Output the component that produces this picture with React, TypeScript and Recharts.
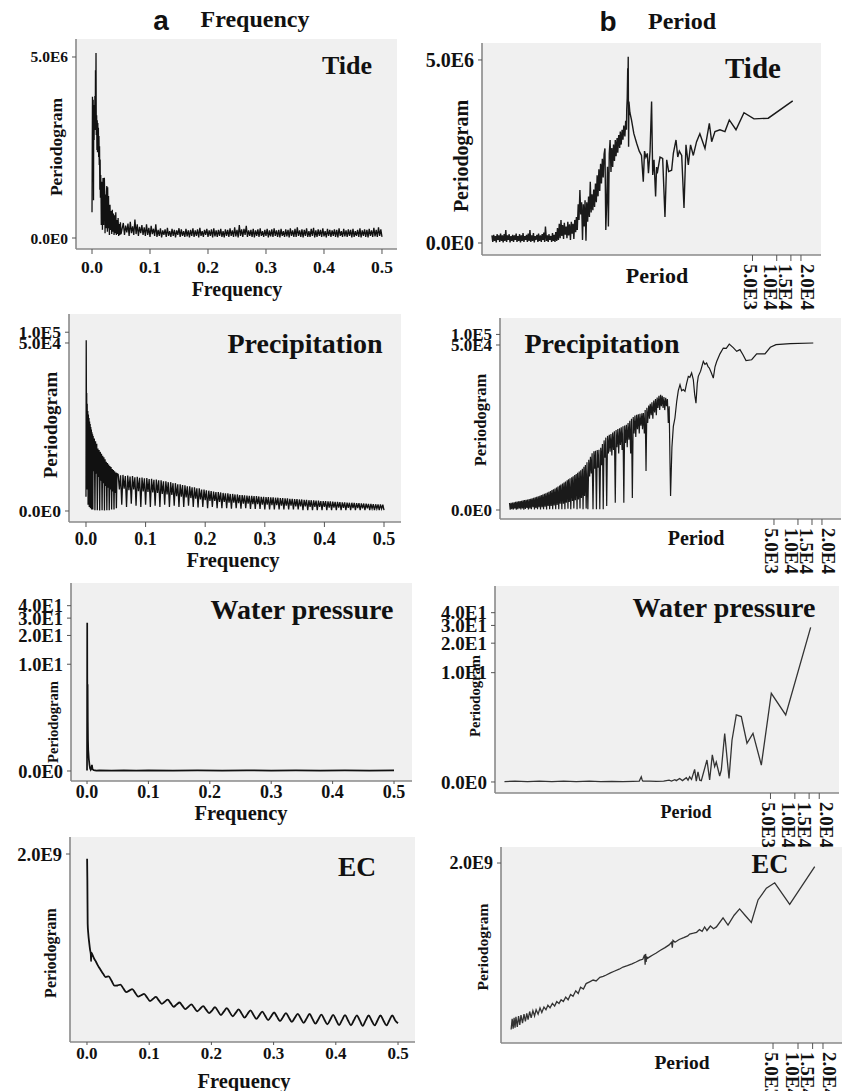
import { LineChart, Line, XAxis, YAxis, CartesianGrid } from 'recharts';

type Pt = [number, number];

const SERIF = '"Liberation Serif", "Times New Roman", Times, serif';
const SANS = '"Liberation Sans", Arial, sans-serif';

// tick values and labels
const freqTicks = [0, 0.1, 0.2, 0.3, 0.4, 0.5];
const periodTicks = [5000, 10000, 15000, 20000];
const periodTickLabels = ['5.0E3', '1.0E4', '1.5E4', '2.0E4'];
const periodTickShift = [-2, -6, -5, 7]; // labels are nudged apart as in the original
const tideTicks = [0, 5e6];
const tideTickLabels = ['0.0E0', '5.0E6'];
const precipTicks = [0, 5e4, 1e5];
const precipTickLabels = ['0.0E0', '5.0E4', '1.0E5'];
const waterTicks = [0, 10, 20, 30, 40];
const waterTickLabels = ['0.0E0', '1.0E1', '2.0E1', '3.0E1', '4.0E1'];
const ecTicks = [2e9];
const ecTickLabels = ['2.0E9'];

// frequencies of the noisy floor in column a (f >= 0.054)
const floorFreqs = [
  0.054, 0.056, 0.058, 0.060, 0.062, 0.064, 0.066, 0.068, 0.070, 0.072,
  0.074, 0.076, 0.078, 0.080, 0.082, 0.084, 0.086, 0.088, 0.090, 0.092,
  0.094, 0.096, 0.098, 0.100, 0.102, 0.104, 0.106, 0.108, 0.110, 0.112,
  0.114, 0.116, 0.118, 0.120, 0.122, 0.124, 0.126, 0.128, 0.130, 0.132,
  0.134, 0.136, 0.138, 0.140, 0.142, 0.144, 0.146, 0.148, 0.150, 0.152,
  0.154, 0.156, 0.158, 0.160, 0.162, 0.164, 0.166, 0.168, 0.170, 0.172,
  0.174, 0.176, 0.178, 0.180, 0.182, 0.184, 0.186, 0.188, 0.190, 0.192,
  0.194, 0.196, 0.198, 0.200, 0.202, 0.204, 0.206, 0.208, 0.210, 0.212,
  0.214, 0.216, 0.218, 0.220, 0.222, 0.224, 0.226, 0.228, 0.230, 0.232,
  0.234, 0.236, 0.238, 0.240, 0.242, 0.244, 0.246, 0.248, 0.250, 0.252,
  0.254, 0.256, 0.258, 0.260, 0.262, 0.264, 0.266, 0.268, 0.270, 0.272,
  0.274, 0.276, 0.278, 0.280, 0.282, 0.284, 0.286, 0.288, 0.290, 0.292,
  0.294, 0.296, 0.298, 0.300, 0.302, 0.304, 0.306, 0.308, 0.310, 0.312,
  0.314, 0.316, 0.318, 0.320, 0.322, 0.324, 0.326, 0.328, 0.330, 0.332,
  0.334, 0.336, 0.338, 0.340, 0.342, 0.344, 0.346, 0.348, 0.350, 0.352,
  0.354, 0.356, 0.358, 0.360, 0.362, 0.364, 0.366, 0.368, 0.370, 0.372,
  0.374, 0.376, 0.378, 0.380, 0.382, 0.384, 0.386, 0.388, 0.390, 0.392,
  0.394, 0.396, 0.398, 0.400, 0.402, 0.404, 0.406, 0.408, 0.410, 0.412,
  0.414, 0.416, 0.418, 0.420, 0.422, 0.424, 0.426, 0.428, 0.430, 0.432,
  0.434, 0.436, 0.438, 0.440, 0.442, 0.444, 0.446, 0.448, 0.450, 0.452,
  0.454, 0.456, 0.458, 0.460, 0.462, 0.464, 0.466, 0.468, 0.470, 0.472,
  0.474, 0.476, 0.478, 0.480, 0.482, 0.484, 0.486, 0.488, 0.490, 0.492,
  0.494, 0.496, 0.498, 0.500,
];

// ---- column a: periodogram vs frequency ----
const tideFreqHead: Pt[] = [
  [0.000, 8], [0.0008, 1.7e5], [0.0014, 1.8e3], [0.002, 1.3e5], [0.0026, 24], [0.003, 5.5e4],
  [0.0036, 4.2e3], [0.004, 8.3e4], [0.0046, 1.0e4], [0.005, 1.8e5], [0.0056, 1.5e4], [0.006, 1.6e6],
  [0.0064, 1.0e4], [0.0069, 7.0e6], [0.0074, 6.5e3], [0.008, 3.5e4], [0.0085, 1.8e3], [0.009, 2.3e4],
  [0.0095, 1.5e3], [0.010, 1.8e4], [0.0105, 2.0e3], [0.011, 1.2e4], [0.0115, 1.0e3], [0.012, 6.0e3],
  [0.0125, 500], [0.013, 2.5e3], [0.0135, 60], [0.014, 800], [0.0145, 30], [0.015, 215],
  [0.0155, 60], [0.016, 2], [0.0165, 120], [0.017, 90], [0.0175, 10], [0.018, 1],
  [0.0185, 60], [0.019, 166], [0.0195, 15], [0.020, 2], [0.0205, 70], [0.0213, 170],
  [0.022, 30], [0.0225, 0.5], [0.023, 40], [0.0235, 24], [0.024, 3], [0.0245, 1.3],
  [0.025, 50], [0.0255, 83], [0.026, 12], [0.0265, 0.7], [0.027, 75], [0.0275, 8],
  [0.028, 1.3], [0.0285, 35], [0.029, 4], [0.030, 0.3], [0.031, 16], [0.032, 1],
  [0.033, 9], [0.034, 0.4], [0.035, 10], [0.036, 0.7], [0.037, 7], [0.038, 0.3],
  [0.039, 6], [0.040, 0.5], [0.041, 8], [0.042, 0.3], [0.043, 3.6], [0.044, 0.4],
  [0.045, 4.5], [0.046, 0.2], [0.047, 2.3], [0.048, 0.3], [0.049, 2.8], [0.050, 0.4],
];
const tideFreqFloor = [
  2.6, 0.3, 1.9, 0.6, 2.4, 0.2, 3.0, 0.5, 1.7, 0.3,
  3.8, 0.4, 2.2, 0.2, 1.6, 0.5, 2.0, 0.3, 1.5, 0.2,
  2.2, 0.3, 1.4, 0.1, 1.8, 0.4, 1.2, 0.2, 2.2, 0.1,
  1.0, 0.2, 1.3, 0.05, 0.9, 0.3, 1.1, 0.1, 1.4, 0.2,
  0.8, 0.1, 1.2, 0.2, 1.0, 0.05, 0.9, 0.3, 1.3, 0.1,
  1.1, 0.2, 0.8, 0.1, 1.2, 0.15, 0.9, 0.05, 1.0, 0.2,
  1.3, 0.1, 0.9, 0.2, 1.1, 0.05, 1.4, 0.2, 0.8, 0.1,
  1.0, 0.3, 1.2, 0.1, 0.9, 0.2, 1.1, 0.05, 1.3, 0.15,
  0.9, 0.1, 1.0, 0.2, 1.2, 0.1, 0.8, 0.05, 1.1, 0.2,
  1.0, 0.1, 1.3, 0.2, 0.9, 0.1, 1.5, 0.15, 1.0, 0.05,
  2.0, 0.2, 1.1, 0.1, 1.2, 0.3, 1.8, 0.1, 0.9, 0.2,
  1.0, 0.1, 1.2, 0.05, 0.9, 0.2, 1.1, 0.1, 1.3, 0.2,
  0.8, 0.1, 1.0, 0.2, 1.2, 0.05, 0.9, 0.15, 1.1, 0.1,
  1.3, 0.2, 0.9, 0.1, 1.0, 0.05, 1.2, 0.2, 0.8, 0.1,
  1.1, 0.15, 1.0, 0.05, 1.3, 0.2, 0.9, 0.1, 1.2, 0.1,
  1.5, 0.2, 0.9, 0.1, 1.1, 0.05, 1.0, 0.2, 1.3, 0.1,
  0.8, 0.1, 1.2, 0.2, 1.4, 0.05, 0.9, 0.1, 1.1, 0.2,
  1.0, 0.1, 1.3, 0.15, 0.8, 0.05, 1.2, 0.2, 1.0, 0.1,
  0.9, 0.2, 1.1, 0.1, 1.0, 0.05, 1.3, 0.2, 0.8, 0.1,
  1.2, 0.15, 0.9, 0.1, 1.1, 0.2, 1.0, 0.05, 1.2, 0.1,
  0.8, 0.2, 1.0, 0.1, 1.3, 0.05, 0.9, 0.2, 1.1, 0.1,
  1.0, 0.05, 1.2, 0.2, 0.9, 0.1, 1.4, 0.15, 1.0, 0.1,
  1.5, 0.2, 1.1, 0.1,
];

const precipFreqHead: Pt[] = [
  [0.000, 1.5], [0.0004, 6e4], [0.0008, 400], [0.0012, 2e3], [0.0016, 3], [0.002, 1e3],
  [0.0025, 60], [0.003, 630], [0.0035, 0.5], [0.004, 500], [0.0045, 40], [0.005, 400],
  [0.0055, 0.3], [0.006, 316], [0.0065, 30], [0.007, 270], [0.0075, 0.2], [0.008, 223],
  [0.0085, 20], [0.009, 190], [0.0095, 0.1], [0.010, 158], [0.0105, 15], [0.011, 140],
  [0.0115, 0.1], [0.012, 125], [0.013, 12], [0.014, 105], [0.015, 0.05], [0.016, 88],
  [0.017, 10], [0.018, 75], [0.019, 0.05], [0.020, 55], [0.021, 8], [0.022, 50],
  [0.023, 0.03], [0.024, 44], [0.025, 6], [0.026, 39], [0.027, 0.05], [0.028, 34],
  [0.029, 5], [0.030, 31], [0.031, 0.03], [0.032, 27], [0.033, 4], [0.034, 23],
  [0.035, 0.05], [0.036, 21], [0.037, 3.5], [0.038, 19], [0.039, 0.05], [0.040, 17],
  [0.041, 3], [0.042, 16], [0.043, 0.1], [0.044, 14], [0.045, 2.5], [0.046, 13],
  [0.047, 0.1], [0.048, 12], [0.049, 2.2], [0.050, 11], [0.051, 0.2], [0.052, 10],
];
const precipFreqFloor = [
  9.5, 3, 9, 0.5, 9.2, 3.2, 8.5, 0.3, 8.8, 2.8,
  8.2, 0.6, 8.5, 3, 7.8, 0.4, 8, 2.6, 7.5, 0.3,
  7.6, 2.5, 7.2, 0.5, 7.3, 2.4, 6.8, 0.3, 7, 2.3,
  6.5, 0.4, 6.6, 2.2, 6.2, 0.3, 6.2, 2, 5.8, 0.5,
  5.8, 1.9, 5.4, 0.3, 5.4, 1.8, 5, 0.4, 5, 1.6,
  4.6, 0.3, 4.6, 1.5, 4.3, 0.3, 4.2, 1.4, 3.9, 0.4,
  3.9, 1.3, 3.6, 0.3, 3.6, 1.2, 3.3, 0.25, 3.3, 1.1,
  3, 0.3, 3, 1, 2.8, 0.2, 2.7, 0.9, 2.6, 0.3,
  2.5, 0.9, 2.4, 0.2, 2.4, 0.8, 2.3, 0.2, 2.2, 0.8,
  2.1, 0.2, 2.1, 0.7, 2, 0.15, 2, 0.7, 1.9, 0.2,
  1.9, 0.65, 1.8, 0.15, 1.8, 0.6, 1.75, 0.2, 1.7, 0.6,
  1.65, 0.15, 1.65, 0.55, 1.6, 0.15, 1.6, 0.55, 1.55, 0.15,
  1.5, 0.5, 1.5, 0.1, 1.45, 0.5, 1.45, 0.1, 1.4, 0.45,
  1.4, 0.1, 1.35, 0.45, 1.35, 0.1, 1.3, 0.4, 1.3, 0.1,
  1.25, 0.4, 1.25, 0.1, 1.2, 0.4, 1.2, 0.1, 1.15, 0.35,
  1.15, 0.1, 1.1, 0.35, 1.1, 0.05, 1.05, 0.35, 1.05, 0.05,
  1.0, 0.3, 1.0, 0.05, 0.98, 0.3, 0.95, 0.05, 0.95, 0.3,
  0.9, 0.05, 0.9, 0.3, 0.88, 0.05, 0.85, 0.25, 0.85, 0.05,
  0.82, 0.25, 0.8, 0.05, 0.8, 0.25, 0.78, 0.05, 0.75, 0.22,
  0.75, 0.05, 0.72, 0.22, 0.7, 0.05, 0.7, 0.2, 0.68, 0.05,
  0.66, 0.2, 0.65, 0.05, 0.63, 0.18, 0.62, 0.05, 0.6, 0.18,
  0.58, 0.05, 0.57, 0.16, 0.55, 0.05, 0.54, 0.15, 0.52, 0.05,
  0.52, 0.15, 0.5, 0.05,
];

const waterFreq: Pt[] = [
  [0, 0.01], [0.0003, 27], [0.0006, 1.5], [0.001, 6], [0.0013, 2], [0.0016, 1],
  [0.002, 0.6], [0.003, 0.3], [0.004, 0.15], [0.005, 0.06], [0.006, 0.03], [0.007, 0.06],
  [0.008, 0.15], [0.009, 0.04], [0.011, 0.02], [0.015, 0.01], [0.02, 0.015], [0.04, 0.01],
  [0.06, 0.015], [0.08, 0.01], [0.1, 0.015], [0.14, 0.01], [0.18, 0.015], [0.22, 0.01],
  [0.26, 0.015], [0.3, 0.01], [0.34, 0.015], [0.38, 0.01], [0.42, 0.015], [0.46, 0.01],
  [0.5, 0.012],
];

const ecFreq: Pt[] = [
  [0.0002, 1.95e9], [0.0006, 1.72e9], [0.0011, 1.26e9], [0.002, 1.16e9], [0.0037, 1.05e9],
  [0.005, 0.98e9], [0.0062, 0.93e9], [0.0066, 0.86e9], [0.007, 0.95e9], [0.009, 0.925e9],
  [0.012, 0.88e9], [0.0145, 0.854e9], [0.017, 0.82e9], [0.02, 0.787e9], [0.023, 0.755e9],
  [0.026, 0.725e9],
  [0.0300, 6.91e8], [0.0348, 6.98e8], [0.0395, 6.51e8], [0.0443, 5.99e8], [0.0490, 6.01e8],
  [0.0538, 6.11e8], [0.0585, 5.69e8], [0.0633, 5.30e8], [0.0680, 5.47e8], [0.0728, 5.63e8],
  [0.0775, 5.23e8], [0.0823, 4.83e8], [0.0870, 4.97e8], [0.0918, 5.12e8], [0.0965, 4.75e8],
  [0.1013, 4.36e8], [0.1060, 4.58e8], [0.1108, 4.80e8], [0.1155, 4.43e8], [0.1203, 4.06e8],
  [0.1250, 4.28e8], [0.1298, 4.50e8], [0.1345, 4.13e8], [0.1393, 3.75e8], [0.1440, 3.98e8],
  [0.1488, 4.20e8], [0.1535, 3.84e8], [0.1583, 3.50e8], [0.1630, 3.75e8], [0.1678, 4.01e8],
  [0.1725, 3.64e8], [0.1773, 3.27e8], [0.1820, 3.54e8], [0.1868, 3.81e8], [0.1915, 3.44e8],
  [0.1963, 3.07e8], [0.2010, 3.34e8], [0.2058, 3.72e8], [0.2105, 3.29e8], [0.2153, 2.87e8],
  [0.2200, 3.24e8], [0.2248, 3.61e8], [0.2295, 3.17e8], [0.2343, 2.74e8], [0.2390, 3.10e8],
  [0.2438, 3.47e8], [0.2485, 3.04e8], [0.2533, 2.59e8], [0.2580, 2.98e8], [0.2628, 3.37e8],
  [0.2675, 2.91e8], [0.2723, 2.46e8], [0.2770, 2.84e8], [0.2818, 3.23e8], [0.2865, 2.78e8],
  [0.2913, 2.33e8], [0.2960, 2.73e8], [0.3008, 3.14e8], [0.3055, 2.68e8], [0.3103, 2.23e8],
  [0.3150, 2.64e8], [0.3198, 3.07e8], [0.3245, 2.61e8], [0.3293, 2.14e8], [0.3340, 2.57e8],
  [0.3388, 3.00e8], [0.3435, 2.53e8], [0.3483, 2.04e8], [0.3530, 2.49e8], [0.3578, 2.98e8],
  [0.3625, 2.46e8], [0.3673, 1.95e8], [0.3720, 2.43e8], [0.3768, 2.91e8], [0.3815, 2.40e8],
  [0.3863, 1.89e8], [0.3910, 2.37e8], [0.3958, 2.88e8], [0.4005, 2.34e8], [0.4053, 1.80e8],
  [0.4100, 2.33e8], [0.4148, 2.85e8], [0.4195, 2.32e8], [0.4243, 1.78e8], [0.4290, 2.31e8],
  [0.4338, 2.84e8], [0.4385, 2.30e8], [0.4433, 1.72e8], [0.4480, 2.30e8], [0.4528, 2.82e8],
  [0.4575, 2.29e8], [0.4623, 1.76e8], [0.4670, 2.29e8], [0.4718, 2.82e8], [0.4765, 2.29e8],
  [0.4813, 1.76e8], [0.4860, 2.29e8], [0.4908, 2.82e8], [0.4955, 2.29e8], [0.5000, 2.0e8],
];

// ---- column b: periodogram vs period ----
const tidePeriod: Pt[] = [
  [2.90, 0.9], [2.97, 0.1], [3.05, 1.0], [3.12, 0.2], [3.20, 0.8], [3.28, 0.05], [3.36, 1.1], [3.45, 0.3],
  [3.53, 0.9], [3.62, 0.1], [3.71, 1.2], [3.81, 0.2], [3.90, 0.9], [4.00, 0.05], [4.10, 1.1], [4.20, 0.2],
  [4.31, 2.0], [4.41, 0.1], [4.52, 0.9], [4.64, 0.3], [4.75, 1.1], [4.87, 0.05], [5.00, 0.8], [5.12, 0.2],
  [5.25, 1.0], [5.38, 0.1], [5.52, 0.9], [5.65, 0.3], [5.80, 1.2], [5.94, 0.1], [6.09, 0.8], [6.24, 0.2],
  [6.40, 1.1], [6.56, 0.05], [6.72, 0.9], [6.89, 0.2], [7.06, 1.3], [7.24, 0.1], [7.42, 0.8], [7.60, 0.3],
  [7.80, 1.0], [7.99, 0.1], [8.19, 1.2], [8.40, 0.2], [8.60, 2.0], [8.82, 0.1], [9.04, 0.9], [9.27, 0.2],
  [9.50, 1.3], [9.74, 0.05], [9.98, 0.8], [10.2, 0.3], [10.5, 1.0], [10.8, 0.1], [11.0, 1.2], [11.3, 0.2],
  [11.6, 0.9], [11.9, 0.1], [12.2, 1.1], [12.5, 0.3], [12.8, 1.4], [13.1, 0.1], [13.4, 3.0], [13.8, 0.2],
  [14.1, 0.9], [14.5, 0.1], [14.8, 1.1], [15.2, 0.3], [15.6, 0.8], [16.0, 0.1], [16.4, 1.3], [16.8, 0.2],
  [17.2, 1.0], [17.6, 0.1], [18.0, 1.5], [18.5, 0.2],
  [18.9, 2.5], [19.4, 0.3], [19.9, 4], [20.4, 0.5], [20.9, 5.9], [21.4, 0.8], [21.9, 3.5], [22.5, 0.4],
  [23.0, 4.5], [23.6, 1.0], [24.2, 3], [24.8, 0.5], [25.4, 5], [26.0, 0.9], [26.7, 3.8], [27.4, 0.3],
  [28.1, 5], [28.8, 1.2], [29.5, 4], [30.2, 0.4], [31.0, 6], [31.8, 1.5], [32.5, 8],
  [33.3, 2], [34.2, 25], [35.0, 6], [35.9, 86], [36.8, 10], [37.7, 30], [38.7, 0.3], [39.6, 25],
  [40.6, 3], [41.6, 36], [42.7, 0.2], [43.7, 30], [44.8, 5], [46, 49], [47.1, 8], [48.3, 175],
  [49.5, 12], [50.7, 60], [52, 15], [53.3, 90], [54.6, 20], [56, 150], [57.4, 30], [58.8, 300],
  [60.3, 50], [61.8, 500], [63.3, 80], [64.9, 800], [66.5, 150], [68.2, 1.2e3], [69.9, 250], [71.7, 1.8e3],
  [73.5, 2.9e3], [75.3, 2], [77.2, 30], [79.1, 620], [81.1, 3], [83.1, 1.8e3], [85.2, 5.9e3], [87.3, 400],
  [89.5, 3e3], [91.7, 600], [94, 4e3], [96.4, 1e3], [98.8, 5.9e3], [101, 1.5e3], [104, 7e3], [106, 2e3],
  [109, 9e3], [112, 3e3], [114, 1.2e4], [117, 4e3], [120, 1.4e4], [123, 6e3], [126, 2e4], [130, 8e3],
  [133, 3e4], [136, 1.4e4], [137, 7.4e4], [139, 2e5], [141, 2.5e6], [142, 5e5], [143, 6.6e6],
  [144.5, 3.3e3], [146, 1.5e5], [150, 6e4], [157, 3.2e4], [168, 1e4], [182, 4.5e3],
  [196, 2.3e3], [209, 1.6e3], [220, 175], [228, 2.3e3], [237, 1.4e3], [247, 1.9e3], [255, 355],
  [267, 2.3e3], [279, 1.5e5], [288, 310], [299, 1.1e3], [313, 49], [322, 600], [328, 355],
  [355, 1.4e3], [383, 1.25e3], [409, 8], [430, 1.1e3], [455, 410], [495, 460], [520, 1.9e3],
  [561, 5.9e3], [590, 1.4e3], [617, 2.3e3], [660, 1.6e3], [705, 18], [746, 3.9e3], [798, 720],
  [850, 3.9e3], [920, 1.6e3], [1010, 5.1e3], [1110, 1e4], [1285, 2.9e3], [1455, 2.4e4], [1556, 5.1e3],
  [1710, 1.2e4], [1972, 1.4e4], [2275, 1.2e4], [2576, 3.2e4], [3119, 1.4e4], [3920, 5.9e4],
  [5220, 3.5e4], [7850, 3.7e4], [15800, 1.6e5],
];

const precipPeriod: Pt[] = [
  [2.40, 0.58], [2.45, 0.02], [2.51, 0.6], [2.56, 0.05], [2.62, 0.62], [2.68, 0.03], [2.74, 0.66], [2.80, 0.1],
  [2.86, 0.7], [2.92, 0.02], [2.99, 0.74], [3.05, 0.05], [3.12, 0.78], [3.19, 0.1], [3.26, 0.8], [3.33, 0.03],
  [3.40, 0.84], [3.48, 0.1], [3.56, 0.88], [3.63, 0.02], [3.71, 0.92], [3.80, 0.08], [3.88, 0.96], [3.97, 0.15],
  [4.05, 1.0], [4.14, 0.03], [4.24, 1.05], [4.33, 0.1], [4.43, 1.1], [4.52, 0.05], [4.62, 1.15], [4.73, 0.2],
  [4.83, 1.22], [4.94, 0.04], [5.05, 1.3], [5.16, 0.15], [5.27, 1.38], [5.39, 0.05], [5.51, 1.47], [5.63, 0.2],
  [5.76, 1.56], [5.88, 0.03], [6.01, 1.66], [6.15, 0.2], [6.28, 1.78], [6.42, 0.05], [6.57, 1.9], [6.71, 0.25],
  [6.86, 2.0], [7.01, 0.04], [7.17, 2.15], [7.33, 0.3], [7.49, 2.3], [7.66, 0.05], [7.83, 2.5], [8.0, 0.3],
  [8.18, 2.7], [8.36, 0.05], [8.54, 2.9], [8.73, 0.35], [8.93, 3.1], [9.12, 0.06], [9.33, 3.4], [9.53, 0.4],
  [9.74, 3.7], [9.96, 0.05], [10.2, 4.0], [10.4, 0.5], [10.6, 4.3], [10.9, 0.06], [11.1, 4.7], [11.4, 0.5],
  [11.6, 5.1], [11.9, 0.05], [12.1, 5.5], [12.4, 0.6], [12.7, 6.0], [13.0, 0.08], [13.2, 6.5], [13.5, 0.7],
  [13.8, 7.0], [14.1, 0.05], [14.5, 7.6], [14.8, 0.8], [15.1, 8.2], [15.4, 0.1], [15.8, 8.9], [16.1, 0.9],
  [16.5, 9.6], [16.9, 0.05], [17.2, 10.5], [17.6, 1.0], [18.0, 11.5], [18.4, 0.1], [18.8, 12.5], [19.2, 1.2],
  [19.7, 14], [20.1, 0.05], [20.6, 16], [21.0, 1.5], [21.5, 18], [22.0, 0.1],
  [22.5, 22], [23.1, 0.05], [23.7, 26], [24.3, 8], [24.9, 32], [25.5, 10], [26.1, 40], [26.8, 0.05],
  [27.5, 46], [28.1, 14], [28.8, 48], [29.6, 0.05], [30.3, 50], [31.1, 15], [31.8, 51], [32.6, 0.05],
  [33.5, 58], [34.3, 18], [35.2, 75], [36.0, 0.05], [36.9, 95], [37.9, 30], [38.8, 114], [39.8, 0.3],
  [40.8, 128], [41.8, 40], [42.9, 137], [43.9, 45], [45.0, 145], [46.2, 35], [47.3, 160], [48.5, 50],
  [49.7, 175], [51.0, 0.6], [52.2, 190], [53.5, 60], [54.9, 203], [56.3, 40], [57.7, 212], [59.1, 70],
  [60.6, 225], [62.1, 50], [63.7, 240], [65.3, 0.6], [66.9, 254], [68.6, 80], [70.3, 266], [72.0, 60],
  [73.8, 300], [75.7, 100], [77.6, 345], [79.5, 40], [81.5, 395], [83.5, 1.2], [85.6, 445], [87.8, 150],
  [90.0, 490], [92.2, 120], [94.5, 518], [96.9, 200], [99.3, 535], [102, 150], [104, 552], [107, 250],
  [110, 568], [112, 200], [115, 578], [118, 150], [121, 700], [124, 12], [127, 820], [130, 300],
  [134, 950], [137, 400], [140, 1060], [144, 500], [147, 1160], [151, 400], [155, 1300], [159, 600],
  [163, 1450], [167, 500], [171, 1600], [175, 800], [180, 1800], [184, 700], [189, 1900], [193, 900],
  [198, 1780], [203, 800], [208, 1650], [213, 700], [219, 1570], [224, 900], [230, 1450], [236, 300],
  [242, 900], [248, 20], [252, 1.5], [262, 60], [273, 240], [286, 416], [301, 1245], [315, 2500],
  [331, 3.7e3], [347, 2.5e3], [364, 2.7e3], [382, 2.4e3], [400, 4e3], [421, 6.4e3], [440, 6e3],
  [463, 8e3], [486, 5.2e3], [505, 2e3], [525, 1.1e3], [545, 4e3], [561, 6.4e3], [600, 9e3],
  [649, 1.7e4], [680, 1.4e4], [714, 1.54e4], [745, 1.2e4], [772, 1.1e4], [820, 8e3], [866, 5.7e3],
  [910, 1.2e4], [955, 1.7e4], [1050, 2.8e4], [1156, 4.1e4], [1260, 4e4], [1374, 5.3e4], [1540, 4.2e4],
  [1702, 3.3e4], [1872, 3.7e4], [2050, 2.6e4], [2228, 1.8e4], [2624, 1.9e4], [3034, 2.8e4],
  [3400, 2.8e4], [3855, 2.8e4], [4500, 4.3e4], [5297, 5.1e4], [8000, 5.5e4], [15560, 5.7e4],
];

const waterPeriod: Pt[] = [
  [2.6, 0.01], [3.5, 0.02], [5, 0.01], [7, 0.02], [10, 0.01], [14, 0.02], [20, 0.01], [29, 0.02],
  [40, 0.01], [55, 0.015], [75, 0.01], [100, 0.015], [120, 0.02], [127, 0.12], [130, 0.05],
  [133, 0.02], [160, 0.02], [195, 0.015], [240, 0.02], [280, 0.04], [300, 0.02], [330, 0.05],
  [344, 0.03], [378, 0.08], [410, 0.03], [457, 0.1], [480, 0.04], [502, 0.12], [530, 0.06],
  [579, 0.32], [607, 0.02], [637, 0.25], [670, 0.04], [700, 0.03], [822, 0.62], [887, 0.045],
  [957, 0.81], [1023, 0.4], [1071, 0.55], [1180, 0.14], [1236, 0.3], [1361, 1.9], [1538, 0.08],
  [1675, 1.5], [1892, 3.35], [2182, 3.2], [2565, 1.34], [3041, 1.9], [3855, 0.45], [5120, 6.0],
  [7710, 3.35], [15670, 28.7],
];

const ecPeriod: Pt[] = [
  [3.5, 0.15e9], [3.6, 0.27e9], [3.7, 0.16e9], [3.8, 0.28e9], [3.9, 0.17e9], [4.0, 0.29e9],
  [4.15, 0.18e9], [4.3, 0.30e9], [4.45, 0.2e9], [4.6, 0.31e9], [4.8, 0.22e9], [5.0, 0.32e9],
  [5.2, 0.24e9], [5.4, 0.33e9], [5.6, 0.26e9], [5.85, 0.35e9], [6.1, 0.28e9], [6.4, 0.36e9],
  [6.7, 0.30e9], [7.0, 0.37e9], [7.4, 0.32e9], [7.8, 0.39e9], [8.2, 0.34e9], [8.7, 0.40e9],
  [9.2, 0.37e9], [9.7, 0.42e9], [10.3, 0.39e9], [11, 0.44e9], [11.7, 0.41e9], [12.4, 0.46e9],
  [13.2, 0.44e9], [14, 0.48e9], [14.9, 0.46e9], [15.9, 0.51e9], [17, 0.48e9], [18.2, 0.54e9],
  [19.5, 0.52e9], [21, 0.58e9], [22.5, 0.55e9], [24, 0.62e9], [26, 0.6e9], [28, 0.66e9],
  [30.9, 0.68e9], [34, 0.7e9], [37, 0.69e9], [41, 0.73e9], [45, 0.74e9], [49, 0.756e9],
  [55, 0.78e9], [62, 0.8e9], [70, 0.82e9], [78, 0.844e9], [88, 0.86e9], [100, 0.88e9],
  [112, 0.9e9], [124, 0.92e9], [135, 0.93e9], [142, 0.98e9], [144, 0.87e9], [146, 0.99e9],
  [148, 0.9e9], [150, 0.96e9], [153, 0.94e9], [165, 0.96e9], [180, 0.98e9], [196, 1.0e9],
  [220, 1.03e9], [250, 1.06e9], [280, 1.09e9], [300, 1.12e9], [306, 1.06e9], [312, 1.14e9],
  [330, 1.12e9], [370, 1.15e9], [420, 1.17e9], [470, 1.19e9], [495, 1.21e9], [550, 1.22e9],
  [600, 1.23e9], [650, 1.26e9], [700, 1.24e9], [750, 1.29e9], [800, 1.25e9], [880, 1.30e9],
  [960, 1.27e9], [1040, 1.29e9], [1250, 1.39e9], [1435, 1.31e9], [1700, 1.42e9], [1980, 1.49e9],
  [2300, 1.42e9], [2740, 1.34e9], [3300, 1.59e9], [4160, 1.72e9], [5240, 1.78e9], [7940, 1.54e9],
  [15900, 1.96e9],
];

const withFloor = (head: Pt[], floor: number[]): Pt[] => [
  ...head,
  ...floorFreqs.slice(0, floor.length).map((f, i) => [f, floor[i]] as Pt),
];

type Panel = {
  pts: Pt[];
  period: boolean;
  logY: boolean;
  frame: [number, number, number, number];
  box: [number, number, number, number];
  xDom: [number, number];
  yDom: [number, number];
  yTicks: number[];
  yLabels: string[];
  yFont: number;
  xFont: number;
  xTickSize: number;
  xTickGap: number;
  title: string;
  titleAt: [number, number];
  titleSize: number;
  yTitleAt: [number, number];
  yTitleSize: number;
  xTitle: string;
  xTitleAt: [number, number];
  xTitleSize: number;
  stroke: string;
  lineWidth: number;
  curve: 'linear' | 'monotoneX';
};

const panels: Panel[] = [
  {
    pts: withFloor(tideFreqHead, tideFreqFloor), period: false, logY: true,
    frame: [0, 28, 420, 265], box: [76, 39, 397, 249], xDom: [-0.0276, 0.5259], yDom: [-0.407, 7.365],
    yTicks: tideTicks, yLabels: tideTickLabels, yFont: 15.5, xFont: 17.5, xTickSize: 5, xTickGap: 6.5,
    title: 'Tide', titleAt: [347, 66], titleSize: 26, yTitleAt: [57, 147], yTitleSize: 17.5,
    xTitle: 'Frequency', xTitleAt: [237, 289], xTitleSize: 20, stroke: '#111', lineWidth: 1.3, curve: 'linear',
  },
  {
    pts: tidePeriod, period: true, logY: true,
    frame: [405, 30, 442, 290], box: [482, 43, 821, 255], xDom: [0.339, 4.55], yDom: [-0.439, 7.32],
    yTicks: tideTicks, yLabels: tideTickLabels, yFont: 20, xFont: 19, xTickSize: 6, xTickGap: 3,
    title: 'Tide', titleAt: [753, 68], titleSize: 29, yTitleAt: [461, 156], yTitleSize: 20,
    xTitle: 'Period', xTitleAt: [657, 276], xTitleSize: 22, stroke: '#1a1a1a', lineWidth: 1.4, curve: 'linear',
  },
  {
    pts: withFloor(precipFreqHead, precipFreqFloor), period: false, logY: true,
    frame: [0, 300, 420, 260], box: [69, 314, 401, 522], xDom: [-0.0285, 0.5285], yDom: [-0.308, 5.51],
    yTicks: precipTicks, yLabels: precipTickLabels, yFont: 17.5, xFont: 18, xTickSize: 5, xTickGap: 5,
    title: 'Precipitation', titleAt: [305, 344], titleSize: 28, yTitleAt: [50, 425], yTitleSize: 19,
    xTitle: 'Frequency', xTitleAt: [233, 560], xTitleSize: 20.5, stroke: '#111', lineWidth: 1.3, curve: 'linear',
  },
  {
    pts: precipPeriod, period: true, logY: true,
    frame: [405, 305, 442, 275], box: [500, 318, 841, 519], xDom: [0.261, 4.54], yDom: [-0.256, 5.468],
    yTicks: precipTicks, yLabels: precipTickLabels, yFont: 17, xFont: 19, xTickSize: 6, xTickGap: 3,
    title: 'Precipitation', titleAt: [602, 344], titleSize: 28, yTitleAt: [481, 420], yTitleSize: 16.5,
    xTitle: 'Period', xTitleAt: [696, 538], xTitleSize: 20, stroke: '#1a1a1a', lineWidth: 1.2, curve: 'linear',
  },
  {
    pts: waterFreq, period: false, logY: true,
    frame: [0, 570, 420, 240], box: [71, 583, 412, 781], xDom: [-0.0261, 0.5293], yDom: [-0.0976, 1.834],
    yTicks: waterTicks, yLabels: waterTickLabels, yFont: 18.5, xFont: 18, xTickSize: 3, xTickGap: 1.5,
    title: 'Water pressure', titleAt: [302, 610], titleSize: 28, yTitleAt: [53, 722], yTitleSize: 14.6,
    xTitle: 'Frequency', xTitleAt: [241, 813], xTitleSize: 20.5, stroke: '#111', lineWidth: 1.7, curve: 'linear',
  },
  {
    pts: waterPeriod, period: true, logY: true,
    frame: [405, 575, 442, 275], box: [495, 586, 839, 793], xDom: [0.298, 4.545], yDom: [-0.105, 1.867],
    yTicks: waterTicks, yLabels: waterTickLabels, yFont: 19, xFont: 19, xTickSize: 6, xTickGap: 3,
    title: 'Water pressure', titleAt: [724, 608], titleSize: 28, yTitleAt: [475, 696], yTitleSize: 14.6,
    xTitle: 'Period', xTitleAt: [686, 812], xTitleSize: 18, stroke: '#333', lineWidth: 1.3, curve: 'linear',
  },
  {
    pts: ecFreq, period: false, logY: false,
    frame: [0, 828, 420, 240], box: [70, 837, 415, 1042], xDom: [-0.0273, 0.5273], yDom: [0, 2.181e9],
    yTicks: ecTicks, yLabels: ecTickLabels, yFont: 18.5, xFont: 17, xTickSize: 3, xTickGap: 2,
    title: 'EC', titleAt: [357, 867], titleSize: 27.5, yTitleAt: [51, 953], yTitleSize: 16,
    xTitle: 'Frequency', xTitleAt: [244, 1081], xTitleSize: 20.5, stroke: '#111', lineWidth: 1.8, curve: 'monotoneX',
  },
  {
    pts: ecPeriod, period: true, logY: false,
    frame: [405, 838, 442, 253], box: [501, 847, 842, 1043], xDom: [0.422, 4.53], yDom: [0, 2.178e9],
    yTicks: ecTicks, yLabels: ecTickLabels, yFont: 18, xFont: 19, xTickSize: 6, xTickGap: 3,
    title: 'EC', titleAt: [770, 864], titleSize: 26.5, yTitleAt: [483, 947], yTitleSize: 15.5,
    xTitle: 'Period', xTitleAt: [682, 1063], xTitleSize: 19.5, stroke: '#333', lineWidth: 1.3, curve: 'linear',
  },
];

const BOX = '#8a8a8a';
const YW = 50;
const XH = 10;

function Txt({ x, y, size, text, rotate = false, family = SERIF }: {
  x: number; y: number; size: number; text: string; rotate?: boolean; family?: string;
}) {
  return (
    <div
      style={{
        position: 'absolute', left: x, top: y,
        transform: `translate(-50%, -50%)${rotate ? ' rotate(-90deg)' : ''}`,
        fontFamily: family, fontWeight: 700, fontSize: size, lineHeight: 1,
        whiteSpace: 'nowrap', color: '#111',
      }}
    >
      {text}
    </div>
  );
}

function PanelChart({ p }: { p: Panel }) {
  const [fl, ft, fw, fh] = p.frame;
  const [bl, bt, br, bb] = p.box;
  const ty = (v: number) => (p.logY ? Math.log10(1 + v) : v);
  const rows = p.pts.map(([x, v]) => ({ x: p.period ? Math.log10(x) : x, y: ty(v) }));
  const yT = p.yTicks.map(ty);
  const xT = p.period ? periodTicks.map((t) => Math.log10(t)) : freqTicks;
  const margin = { top: bt - ft, left: bl - fl - YW, right: fl + fw - br, bottom: ft + fh - bb - XH };

  const periodTick = (tp: any) => {
    const i = xT.findIndex((t) => Math.abs(t - tp.payload.value) < 1e-6);
    return (
      <text
        x={0} y={0} transform={`translate(${tp.x + (periodTickShift[i] ?? 0)},${tp.y}) rotate(90)`}
        textAnchor="start" dominantBaseline="central"
        fontSize={p.xFont} fontWeight={700} fontFamily={SERIF} fill="#111"
      >
        {periodTickLabels[i]}
      </text>
    );
  };

  return (
    <div style={{ position: 'absolute', left: fl, top: ft }}>
      <LineChart width={fw} height={fh} data={rows} margin={margin}>
        <CartesianGrid xAxisId="x" yAxisId="y" fill="#f0f0f0" horizontal={false} vertical={false} />
        <XAxis
          xAxisId="x" dataKey="x" type="number" domain={p.xDom} allowDataOverflow ticks={xT} interval={0}
          height={XH} tickSize={p.xTickSize} tickMargin={p.xTickGap}
          axisLine={{ stroke: BOX, strokeWidth: 1.6 }} tickLine={{ stroke: '#555' }}
          tick={p.period ? periodTick : { fill: '#111', fontSize: p.xFont, fontWeight: 700, fontFamily: SERIF }}
          tickFormatter={(v: number) => v.toFixed(1)}
        />
        <XAxis
          xAxisId="x2" orientation="top" dataKey="x" type="number" domain={p.xDom} allowDataOverflow
          height={0} tick={false} tickLine={false} axisLine={{ stroke: BOX, strokeWidth: 1.6 }}
        />
        <YAxis
          yAxisId="y" type="number" domain={p.yDom} allowDataOverflow ticks={yT} interval={0}
          width={YW} tickSize={4} tickMargin={4}
          axisLine={{ stroke: BOX, strokeWidth: 1.6 }} tickLine={{ stroke: '#555' }}
          tick={{ fill: '#111', fontSize: p.yFont, fontWeight: 700, fontFamily: SERIF }}
          tickFormatter={(v: number) => p.yLabels[yT.findIndex((t) => Math.abs(t - v) < 1e-9)] ?? ''}
        />
        <YAxis
          yAxisId="y2" orientation="right" type="number" domain={p.yDom} allowDataOverflow
          width={0} tick={false} tickLine={false} axisLine={{ stroke: BOX, strokeWidth: 1.6 }}
        />
        <Line
          xAxisId="x" yAxisId="y" type={p.curve} dataKey="y" stroke={p.stroke} strokeWidth={p.lineWidth}
          dot={false} activeDot={false} isAnimationActive={false}
        />
      </LineChart>
    </div>
  );
}

export default function App() {
  return (
    <div style={{ position: 'absolute', left: 0, top: 0, width: 847, height: 1091, background: '#fff', overflow: 'hidden' }}>
      {panels.map((p, i) => (
        <PanelChart key={i} p={p} />
      ))}
      {panels.map((p, i) => (
        <div key={`t${i}`}>
          <Txt x={p.titleAt[0]} y={p.titleAt[1]} size={p.titleSize} text={p.title} />
          <Txt x={p.yTitleAt[0]} y={p.yTitleAt[1]} size={p.yTitleSize} text="Periodogram" rotate />
          <Txt x={p.xTitleAt[0]} y={p.xTitleAt[1]} size={p.xTitleSize} text={p.xTitle} />
        </div>
      ))}
      <Txt x={161} y={21} size={28} text="a" family={SANS} />
      <Txt x={255} y={19} size={24} text="Frequency" />
      <Txt x={608} y={22} size={28} text="b" family={SANS} />
      <Txt x={682} y={21} size={24} text="Period" />
    </div>
  );
}
